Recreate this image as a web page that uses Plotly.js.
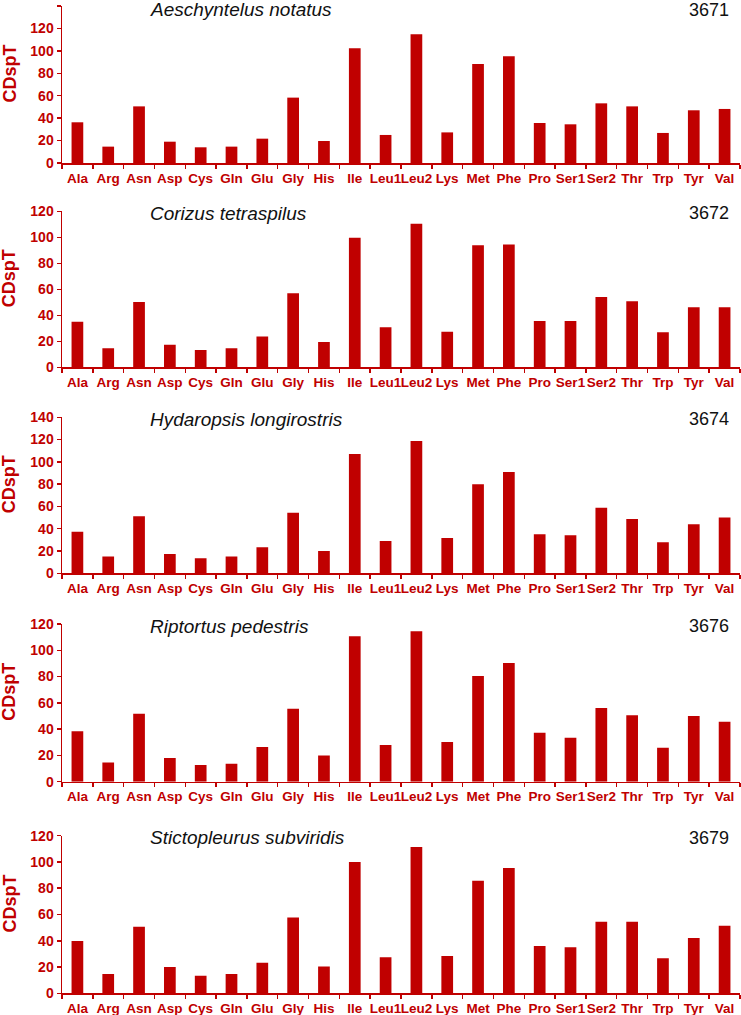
<!DOCTYPE html>
<html>
<head>
<meta charset="utf-8">
<script src="https://cdn.plot.ly/plotly-3.0.1.min.js"></script>
<style>html,body{margin:0;padding:0;background:#fff;}#chart{width:741px;height:1015px;}</style>
</head>
<body>
<div id="chart"></div>
<script>
const categories = ["Ala","Arg","Asn","Asp","Cys","Gln","Glu","Gly","His","Ile","Leu1","Leu2","Lys","Met","Phe","Pro","Ser1","Ser2","Thr","Trp","Tyr","Val"];
const speciesNames = ["Aeschyntelus notatus","Corizus tetraspilus","Hydaropsis longirostris","Riptortus pedestris","Stictopleurus subviridis"];
const accessionCodes = ["3671","3672","3674","3676","3679"];
const yMaxima = [140, 120, 140, 120, 120];
const aeschyntelusValues = [36.3,14.6,50.5,19.0,14.0,14.6,21.7,58.3,19.6,102.3,25.0,114.7,27.3,88.3,95.1,35.7,34.5,53.2,50.5,26.8,47.0,48.2];
const corizusValues = [35.1,14.6,50.3,17.4,13.3,14.6,23.6,56.9,19.5,99.7,30.8,110.5,27.4,93.8,94.4,35.6,35.6,54.1,50.8,26.9,46.2,46.2];
const hydaropsisValues = [37.4,15.0,51.2,17.4,13.5,15.0,23.3,54.4,20.0,107.1,29.0,118.8,31.7,79.9,90.9,35.0,34.1,58.9,48.8,27.8,44.0,50.0];
const riptortusValues = [38.3,14.7,51.7,18.0,12.7,13.7,26.4,55.6,20.0,110.6,27.9,114.4,30.2,80.4,90.3,37.3,33.5,56.1,50.5,25.9,50.0,45.7];
const stictopleurusValues = [39.8,14.7,50.7,20.0,13.4,14.7,23.3,57.8,20.5,99.9,27.4,111.4,28.4,85.7,95.4,36.0,35.0,54.5,54.5,26.6,42.1,51.5];
const seriesValues = [aeschyntelusValues, corizusValues, hydaropsisValues, riptortusValues, stictopleurusValues];

const W = 741, H = 1015;
const RED = "#c00000";
// panel pixel geometry: [top, bottom] of plot area
const panelPx = [[6,163],[211.3,367.3],[417.3,573.3],[624,781.7],[835.7,993.3]];
const xLeft = 62, xRight = 740;
const font = "Arial, 'Liberation Sans', sans-serif";

const data = [];
const layout = {
  width: W, height: H,
  margin: {l:0, r:0, t:0, b:0},
  paper_bgcolor: "#fff", plot_bgcolor: "rgba(0,0,0,0)",
  showlegend: false,
  bargap: 0.62,
  annotations: []
};

seriesValues.forEach((vals, i) => {
  const n = i + 1;
  const xa = "x" + (n === 1 ? "" : n), ya = "y" + (n === 1 ? "" : n);
  data.push({
    type: "bar", x: categories, y: vals, xaxis: xa, yaxis: ya,
    marker: {color: RED, line: {width: 0}}, hoverinfo: "x+y"
  });
  const [top, bot] = panelPx[i];
  const dom = [1 - bot / H, 1 - top / H];
  layout["xaxis" + (n === 1 ? "" : n)] = {
    domain: [xLeft / W, xRight / W], anchor: ya,
    type: "category", categoryorder: "array", categoryarray: categories,
    showline: true, linecolor: RED, linewidth: 1.5,
    ticks: "outside", tickson: "boundaries", ticklen: 4, tickwidth: 1.5, tickcolor: RED,
    tickangle: 0, ticklabelstandoff: 2,
    tickfont: {family: font, size: 13.5, color: RED, weight: "bold"},
    showgrid: false, zeroline: false, automargin: false, fixedrange: true
  };
  layout["yaxis" + (n === 1 ? "" : n)] = {
    domain: dom, anchor: xa, range: [0, yMaxima[i]], dtick: 20,
    showline: true, linecolor: RED, linewidth: 1.5,
    ticks: "outside", ticklen: 4, tickwidth: 1.5, tickcolor: RED,
    tickfont: {family: font, size: 14, color: RED, weight: "bold"},
    showgrid: false, zeroline: false, automargin: false, fixedrange: true
  };
  const mid = (top + bot) / 2 - 11;
  const labelY = Math.max(top + 2, 10);
  layout.annotations.push({
    xref: "paper", yref: "paper", x: 9 / W, y: 1 - mid / H,
    text: "<b>CDspT</b>", textangle: -90, showarrow: false,
    font: {family: font, size: 18, color: RED}, xanchor: "center", yanchor: "middle"
  });
  layout.annotations.push({
    xref: "paper", yref: "paper", x: 148 / W, y: 1 - labelY / H,
    text: "<i>" + speciesNames[i] + "</i>", showarrow: false,
    font: {family: font, size: 19, color: "#111"}, xanchor: "left", yanchor: "middle"
  });
  layout.annotations.push({
    xref: "paper", yref: "paper", x: 731 / W, y: 1 - labelY / H,
    text: accessionCodes[i], showarrow: false,
    font: {family: font, size: 18, color: "#111"}, xanchor: "right", yanchor: "middle"
  });
});

Plotly.newPlot("chart", data, layout, {displayModeBar: false, staticPlot: true});
</script>
</body>
</html>
